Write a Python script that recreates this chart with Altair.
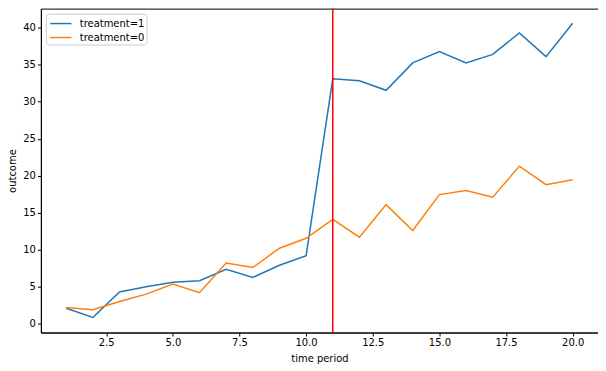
import altair as alt
import pandas as pd

time = list(range(1, 21))
treated = [2.1, 0.85, 4.3, 5.0, 5.6, 5.8, 7.35, 6.25, 7.9, 9.2,
           33.1, 32.85, 31.55, 35.25, 36.8, 35.25, 36.4, 39.3, 36.1, 40.6]
control = [2.2, 1.9, 3.0, 4.0, 5.35, 4.2, 8.2, 7.6, 10.2, 11.55,
           14.1, 11.7, 16.1, 12.6, 17.45, 18.0, 17.1, 21.3, 18.8, 19.45]
series = ["treatment=1", "treatment=0"]
colors = ["#1f77b4", "#ff7f0e"]
x_ticks = [2.5, 5.0, 7.5, 10.0, 12.5, 15.0, 17.5, 20.0]
y_ticks = [0, 5, 10, 15, 20, 25, 30, 35, 40]
event_time = [11]

rows = []
for t, a, b in zip(time, treated, control):
    rows.append({"time": t, "outcome": a, "group": series[0]})
    rows.append({"time": t, "outcome": b, "group": series[1]})
df = pd.DataFrame(rows)

xscale = alt.Scale(domain=[0.05, 20.95], nice=False, zero=False)
yscale = alt.Scale(domain=[-1.19, 42.59], nice=False, zero=False)

lines = alt.Chart(df).mark_line(strokeWidth=1.5).encode(
    x=alt.X("time:Q", scale=xscale, title="time period",
            axis=alt.Axis(values=x_ticks, format=".1f", grid=False)),
    y=alt.Y("outcome:Q", scale=yscale, title="outcome",
            axis=alt.Axis(values=y_ticks, grid=False)),
    color=alt.Color("group:N", sort=series,
                    scale=alt.Scale(domain=series, range=colors),
                    legend=alt.Legend(title=None, orient="top-left", offset=4.5,
                                      symbolType="M-0.76,0H2.09", symbolSize=225,
                                      symbolStrokeWidth=1.5,
                                      fillColor="white", strokeColor="#cccccc",
                                      cornerRadius=3, padding=1.5,
                                      rowPadding=0, labelOffset=15.5,
                                      labelFont="DejaVu Sans", labelFontSize=10)),
)

vline = alt.Chart(pd.DataFrame({"t": event_time})).mark_rule(
    color="#ff0000", strokeWidth=1.5).encode(x=alt.X("t:Q", scale=xscale))

chart = alt.layer(lines, vline).properties(
    width=559, height=325,
    autosize=alt.AutoSizeParams(type="none"),
    padding={"left": 33, "top": 0, "right": 0, "bottom": 40},
).configure(
    font="DejaVu Sans"
).configure_view(
    stroke="black", strokeWidth=1
).configure_axis(
    labelFont="DejaVu Sans", titleFont="DejaVu Sans",
    labelFontSize=10, titleFontSize=10, titleFontWeight="normal",
    labelColor="black", titleColor="black",
    domainColor="black", tickColor="black", tickSize=3.5,
    labelPadding=2,
).configure_axisX(titlePadding=6).configure_axisY(titlePadding=5
).configure_legend(
    labelFont="DejaVu Sans", labelFontSize=10, labelColor="black",
    labelLimit=300,
)

chart.save("out.html", embed_options={"renderer": "svg", "actions": False})
